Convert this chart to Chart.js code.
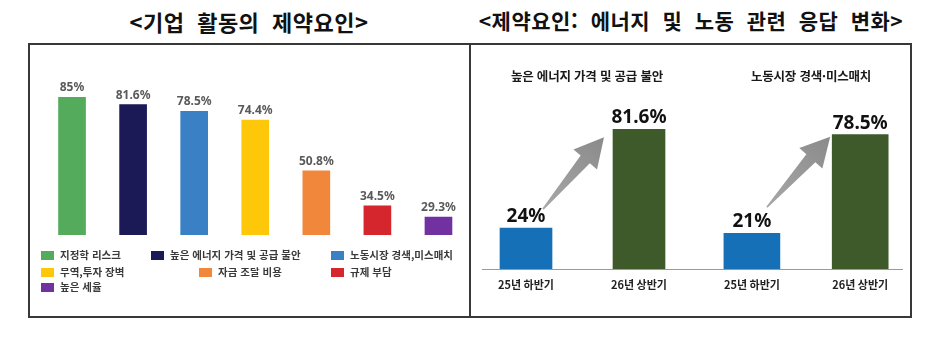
<!DOCTYPE html>
<html lang="ko">
<head>
<meta charset="utf-8">
<script src="https://cdn.jsdelivr.net/npm/chart.js@4.4.1/dist/chart.umd.min.js"></script>
<style>
	body { margin: 0; background: #fff; font-family: "Noto Sans CJK KR", sans-serif; }
	#wrap { position: relative; width: 941px; height: 338px; overflow: hidden; }
	canvas { position: absolute; }
	.title { position: absolute; top: 5px; width: 442px; text-align: center; font-weight: bold; color: #111; letter-spacing: 0.5px; word-spacing: 6px; }
	.frame { position: absolute; left: 28px; top: 43px; width: 884px; height: 275px; border: 2px solid #383838; box-sizing: border-box; }
	.divider { position: absolute; left: 469px; top: 43px; width: 2px; height: 275px; background: #383838; }
	.baseline { position: absolute; left: 482px; top: 269px; width: 421px; height: 1px; background: #9a9a9a; }
	.sub { position: absolute; top: 66px; width: 220px; text-align: center; font-size: 12.5px; font-weight: bold; color: #1a1a1a; letter-spacing: -0.2px; }
	.lg { position: absolute; font-size: 10.5px; font-weight: bold; color: #3a3a3a; white-space: nowrap; line-height: 12px; }
	.lg i { display: inline-block; width: 13px; height: 9px; margin-right: 6px; vertical-align: -1px; }
</style>
</head>
<body>
<div id="wrap">
	<canvas id="causes" width="442" height="200" style="left:28px;top:46px;width:442px;height:200px"></canvas>
	<canvas id="energy" width="232" height="250" style="left:469px;top:46px;width:232px;height:250px"></canvas>
	<canvas id="labor" width="226" height="250" style="left:690px;top:46px;width:226px;height:250px"></canvas>

	<div class="title" style="left:28px;font-size:22px">&lt;기업 활동의 제약요인&gt;</div>
	<div class="title" style="left:470px;font-size:21px">&lt;제약요인: 에너지 및 노동 관련 응답 변화&gt;</div>
	<div class="frame"></div>
	<div class="divider"></div>
	<div class="baseline"></div>
	<div class="sub" id="energyTitle" style="left:477px"></div>
	<div class="sub" id="laborTitle" style="left:701px"></div>
	<div id="legend"></div>
</div>

<script>
// 왼쪽: 기업 활동의 제약요인
var causeLabels = ['지정학 리스크', '높은 에너지 가격 및 공급 불안', '노동시장 경색,미스매치', '무역,투자 장벽', '자금 조달 비용', '규제 부담', '높은 세율'];
var causeValues = [85, 81.6, 78.5, 74.4, 50.8, 34.5, 29.3];
var causeColors = ['#54ab5b', '#1b1a56', '#3a80c4', '#ffc70a', '#f1873a', '#d4262c', '#7131a1'];

// 오른쪽: 응답 변화
var periods = ['25년 하반기', '26년 상반기'];
var energyTitle = '높은 에너지 가격 및 공급 불안';
var energyValues = [24, 81.6];
var laborTitle = '노동시장 경색·미스매치';
var laborValues = [21, 78.5];
var periodColors = ['#1570b8', '#3e5a2b'];

// 범례 위치 (x, y)
var legendSlots = [[41, 249], [151, 249], [331, 249], [41, 266], [199, 266], [331, 266], [41, 281]];

document.getElementById('energyTitle').textContent = energyTitle;
document.getElementById('laborTitle').textContent = laborTitle;

// 막대 위 값 표시
var valueLabels = {
	id: 'valueLabels',
	afterDatasetsDraw: function(chart, args, opts) {
		var ctx = chart.ctx;
		var data = chart.data.datasets[0].data;
		ctx.save();
		ctx.font = opts.font;
		ctx.fillStyle = opts.color;
		ctx.textAlign = 'center';
		ctx.textBaseline = 'alphabetic';
		chart.getDatasetMeta(0).data.forEach(function(bar, i) {
			ctx.fillText(data[i] + '%', bar.x, bar.y - opts.offset);
		});
		ctx.restore();
	}
};

// 회색 상승 화살표
var riseArrow = {
	id: 'riseArrow',
	afterDatasetsDraw: function(chart, args, opts) {
		var ctx = chart.ctx;
		var bars = chart.getDatasetMeta(0).data;
		var a = bars[0], b = bars[1];
		var x0 = a.x + opts.tail[0], y0 = a.y + opts.tail[1];
		var x1 = b.x - b.width / 2 + opts.tip[0], y1 = b.y + opts.tip[1];
		var dx = x1 - x0, dy = y1 - y0, len = Math.hypot(dx, dy);
		var ux = dx / len, uy = dy / len, nx = -uy, ny = ux;
		var headLen = 29, headHalf = 15.5, shaftHalf = 6, tailHalf = 0.8;
		var bx = x1 - ux * headLen, by = y1 - uy * headLen;
		var grad = ctx.createLinearGradient(x0, y0, x1, y1);
		grad.addColorStop(0, '#a8a8a8');
		grad.addColorStop(1, '#8a8a8a');
		ctx.save();
		ctx.beginPath();
		ctx.moveTo(x0 + nx * tailHalf, y0 + ny * tailHalf);
		ctx.lineTo(bx + nx * shaftHalf, by + ny * shaftHalf);
		ctx.lineTo(bx + nx * headHalf, by + ny * headHalf);
		ctx.lineTo(x1, y1);
		ctx.lineTo(bx - nx * headHalf, by - ny * headHalf);
		ctx.lineTo(bx - nx * shaftHalf, by - ny * shaftHalf);
		ctx.lineTo(x0 - nx * tailHalf, y0 - ny * tailHalf);
		ctx.closePath();
		ctx.fillStyle = grad;
		ctx.fill();
		ctx.restore();
	}
};

new Chart(document.getElementById('causes'), {
	type: 'bar',
	data: {
		labels: causeLabels,
		datasets: [{
			data: causeValues,
			backgroundColor: causeColors,
			barThickness: 27
		}]
	},
	options: {
		responsive: false,
		animation: false,
		layout: { padding: { left: 13.5, right: 1, top: 19, bottom: 11 } },
		scales: {
			x: { display: false },
			y: { display: false, min: 21, max: 100 }
		},
		plugins: {
			legend: { display: false },
			tooltip: { enabled: false },
			valueLabels: { font: 'bold 12px "Noto Sans"', color: '#5a5a5a', offset: 6 }
		}
	},
	plugins: [valueLabels]
});

// 범례
var legend = document.getElementById('legend');
causeLabels.forEach(function(label, i) {
	var item = document.createElement('div');
	item.className = 'lg';
	item.style.left = legendSlots[i][0] + 'px';
	item.style.top = legendSlots[i][1] + 'px';
	item.innerHTML = '<i style="background:' + causeColors[i] + '"></i>' + label;
	legend.appendChild(item);
});

function periodChart(id, values, padding, thickness, arrow) {
	return new Chart(document.getElementById(id), {
		type: 'bar',
		data: {
			labels: periods,
			datasets: [{
				data: values,
				backgroundColor: periodColors,
				barThickness: thickness
			}]
		},
		options: {
			responsive: false,
			animation: false,
			layout: { padding: padding },
			scales: {
				x: {
					grid: { display: false, drawTicks: false },
					border: { display: false },
					ticks: { padding: 9, color: '#222', font: { family: '"Noto Sans CJK KR"', size: 11, weight: 'bold' } },
					afterFit: function(scale) { scale.height = 26; }
				},
				y: { display: false, min: 0, max: 100 }
			},
			plugins: {
				legend: { display: false },
				tooltip: { enabled: false },
				valueLabels: { font: 'bold 19px "Noto Sans"', color: '#111', offset: 6 },
				riseArrow: arrow
			}
		},
		plugins: [riseArrow, valueLabels]
	});
}

periodChart('energy', energyValues, { left: 0.5, right: 5.5, top: 51.8, bottom: 0.7 }, 52, { tail: [17, -19], tip: [-9, 8] });
periodChart('labor', laborValues, { left: 7.75, right: 1.65, top: 51.8, bottom: 0.7 }, 56, { tail: [15, -26], tip: [-2, 2] });
</script>
</body>
</html>
